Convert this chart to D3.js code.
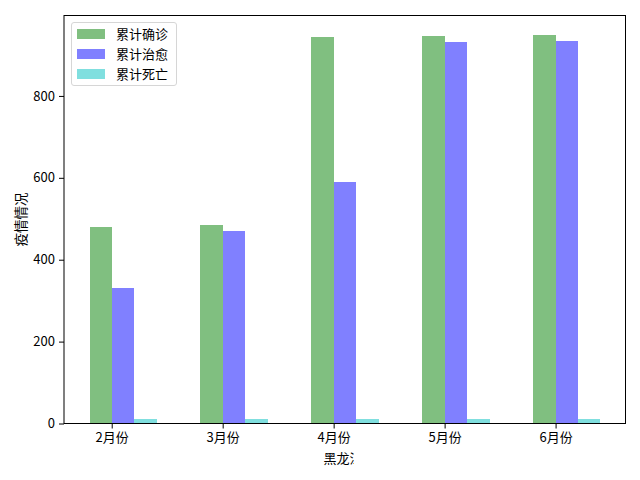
<!DOCTYPE html>
<html>
<head>
<meta charset="utf-8">
<script src="https://cdn.jsdelivr.net/npm/d3@7"></script>
<style>
body { margin: 0; background: #fff; }
text { font-family: "Noto Sans CJK SC", "DejaVu Sans", sans-serif; fill: #000; }
</style>
</head>
<body>
<svg id="chart" width="640" height="480"></svg>
<script>
// months and cumulative counts
var months = ["2月份", "3月份", "4月份", "5月份", "6月份"];
var confirmed = [481, 484, 944, 946, 949];
var cured = [331, 469, 589, 932, 934];
var deaths = [12, 12, 12, 12, 12];
var seriesNames = ["累计确诊", "累计治愈", "累计死亡"];
var seriesColors = ["#80bf80", "#8080ff", "#80dfdf"];
var yTicks = [0, 200, 400, 600, 800];

var svg = d3.select("#chart");
var axLeft = 64, axRight = 625.5, axTop = 15.5, axBottom = 423.5;
var barW = 0.2;

var x = d3.scaleLinear()
	.domain([-0.1 - 0.23, 4.5 + 0.23])
	.range([axLeft, axRight]);

var ymax = d3.max(confirmed) * 1.05;
var y = d3.scaleLinear()
	.domain([0, ymax])
	.range([axBottom, axTop]);

var series = [confirmed, cured, deaths];
series.forEach(function (vals, s) {
	svg.append("g")
		.attr("shape-rendering", "crispEdges")
		.selectAll("rect")
		.data(vals)
		.enter()
		.append("rect")
		.attr("x", function (d, i) { return x(i + s * barW - barW / 2); })
		.attr("width", x(barW) - x(0) + 0.5)
		.attr("y", function (d) { return y(d); })
		.attr("height", function (d) { return y(0) - y(d); })
		.attr("fill", seriesColors[s]);
});

// x axis
var xAxis = d3.axisBottom(x)
	.tickValues(months.map(function (m, i) { return i + barW / 2; }))
	.tickFormat(function (d, i) { return months[i]; })
	.tickSize(5)
	.tickPadding(4);
var gx = svg.append("g")
	.attr("transform", "translate(0," + axBottom + ")")
	.call(xAxis);
gx.select(".domain").remove();
gx.selectAll("text").style("font-size", "13px").attr("font-family", null);

// y axis
var yAxis = d3.axisLeft(y)
	.tickValues(yTicks)
	.tickSize(5)
	.tickPadding(4);
var gy = svg.append("g")
	.attr("transform", "translate(" + axLeft + ",0)")
	.call(yAxis);
gy.select(".domain").remove();
gy.selectAll("text").style("font-size", "13px").attr("font-family", null);
svg.selectAll(".tick line").attr("stroke", "#000");

// frame
svg.append("rect")
	.attr("x", axLeft)
	.attr("y", axTop)
	.attr("width", axRight - axLeft)
	.attr("height", axBottom - axTop)
	.attr("fill", "none")
	.attr("stroke", "#000")
	.attr("stroke-width", 1);

// axis labels
svg.append("text")
	.attr("x", 343)
	.attr("y", 463)
	.attr("text-anchor", "middle")
	.style("font-size", "13px")
	.text("黑龙江");
// the reference has the last glyph partly covered
svg.append("rect")
	.attr("x", 354)
	.attr("y", 449)
	.attr("width", 30)
	.attr("height", 22)
	.attr("fill", "#fff");

svg.append("text")
	.attr("transform", "translate(26," + ((axTop + axBottom) / 2) + ") rotate(-90)")
	.attr("text-anchor", "middle")
	.style("font-size", "13.5px")
	.text("疫情情况");

// legend
var lg = svg.append("g");
lg.append("rect")
	.attr("x", 71.5)
	.attr("y", 22.5)
	.attr("width", 105)
	.attr("height", 63)
	.attr("rx", 2.5)
	.attr("fill", "#fff")
	.attr("fill-opacity", 0.8)
	.attr("stroke", "#d6d6d6");
seriesNames.forEach(function (name, i) {
	lg.append("rect")
		.attr("x", 77)
		.attr("y", 29 + i * 20)
		.attr("width", 28)
		.attr("height", 10)
		.attr("fill", seriesColors[i]);
	lg.append("text")
		.attr("x", 116)
		.attr("y", 39 + i * 20)
		.style("font-size", "13px")
		.text(name);
});
</script>
</body>
</html>
